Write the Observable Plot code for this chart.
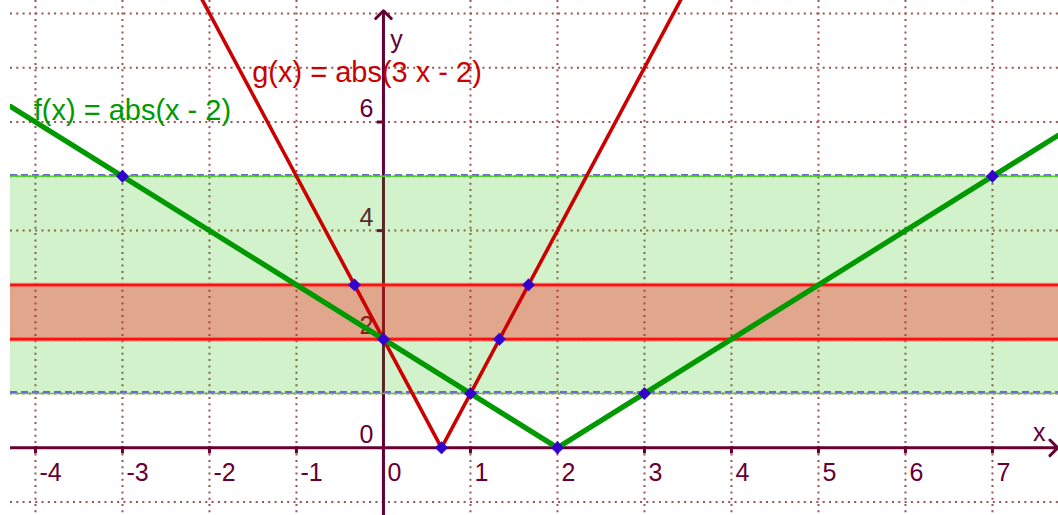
<!DOCTYPE html>
<html>
<head>
<meta charset="utf-8">
<script src="https://cdn.jsdelivr.net/npm/d3@7"></script>
<script src="https://cdn.jsdelivr.net/npm/@observablehq/plot@0.6"></script>
<style>
  html, body { margin: 0; padding: 0; background: #ffffff; }
  svg { display: block; }
</style>
</head>
<body>
<script>
// ---- data ----
const xDomain = [-4.287, 7.759];
const yDomain = [-1.247, 8.238];

const gridX = [-4, -3, -2, -1, 1, 2, 3, 4, 5, 6, 7];
const gridY = [-1, 1, 2, 3, 4, 5, 6, 7, 8];

const xTicks = [-4, -3, -2, -1, 1, 2, 3, 4, 5, 6, 7];
const xTickLabels = [-4, -3, -2, -1, 0, 1, 2, 3, 4, 5, 6, 7];
const yTicks = [2, 4, 6];
const yTickLabels = [0, 2, 4, 6];

// axis extents (start, arrow tip)
const xAxisExtent = [-4.287, 7.75];
const yAxisExtent = [-1.247, 8.05];

// bands: green 1..5, red 2..3
const greenBand = [1, 5];
const redBand = [2, 3];

// f(x) = |x - 2| polyline (vertices)
const fX = [-4.287, 2, 7.759];
const fY = [6.287, 0, 5.759];
// g(x) = |3x - 2| polyline
const gX = [-2.3, 0.667, 3.6];
const gY = [8.9, 0, 8.8];

// marked points
const ptsX = [-3, 0, 1, 2, 3, 7, -0.333, 0.667, 1.333, 1.667];
const ptsY = [5, 2, 1, 0, 1, 5, 3, 0, 2, 3];

// function labels
const labelText = ["g(x) = abs(3 x - 2)", "f(x) = abs(x - 2)"];
const labelX = [-1.509, -4.02];
const labelY = [6.90, 6.21];
const labelColor = ["#cc0000", "#009900"];

// ---- build ----
const zip = (xs, ys) => xs.map((x, i) => ({x, y: ys[i]}));
const fLine = zip(fX, fY);
const gLine = zip(gX, gY);
const pts = zip(ptsX, ptsY);
const labels = labelText.map((t, i) => ({t, x: labelX[i], y: labelY[i], c: labelColor[i]}));

const axisCol = "#660033";
const gridCol = "#9a5252";
const font = "Liberation Sans, Arial, sans-serif";

const chart = Plot.plot({
  width: 1058,
  height: 515,
  marginLeft: 10,
  marginRight: 0,
  marginTop: 0,
  marginBottom: 0,
  style: {background: "#ffffff", fontFamily: font},
  x: {domain: xDomain, axis: null},
  y: {domain: yDomain, axis: null},
  marks: [
    // dotted grid
    Plot.ruleX(gridX, {x: d => d, stroke: gridCol, strokeWidth: 2, strokeDasharray: "2,4.3"}),
    Plot.ruleY(gridY, {y: d => d, stroke: gridCol, strokeWidth: 2, strokeDasharray: "2,4.3"}),
    // axes
    Plot.arrow([0], {x1: () => xAxisExtent[0], x2: () => xAxisExtent[1], y1: () => 0, y2: () => 0,
      stroke: axisCol, strokeWidth: 3, headAngle: 90, headLength: 5.5, clip: true}),
    Plot.arrow([0], {x1: () => 0, x2: () => 0, y1: () => yAxisExtent[0], y2: () => yAxisExtent[1],
      stroke: axisCol, strokeWidth: 3, headAngle: 90, headLength: 5.5}),
    // ticks
    Plot.ruleX(xTicks, {x: d => d, y1: () => 0, y2: () => 0, insetTop: -1, insetBottom: -6,
      stroke: axisCol, strokeWidth: 3}),
    Plot.ruleY(yTicks, {y: d => d, x1: () => 0, x2: () => 0, insetLeft: -6, insetRight: -1,
      stroke: axisCol, strokeWidth: 3}),
    // tick labels
    Plot.text(xTickLabels, {x: d => d, y: () => 0, text: d => String(d), textAnchor: "start",
      dx: 4, dy: 25, fontSize: 25, fill: axisCol, fontFamily: font}),
    Plot.text(yTickLabels, {x: () => 0, y: d => d, text: d => String(d), textAnchor: "end",
      dx: -10, dy: -13, fontSize: 25, fill: axisCol, fontFamily: font}),
    // axis names
    Plot.text(["y"], {x: () => 0, frameAnchor: "top", dx: 13, dy: 30, text: d => d,
      fontSize: 25, fill: axisCol, fontFamily: font}),
    Plot.text(["x"], {y: () => 0, frameAnchor: "right", dx: -13, dy: -15, text: d => d,
      fontSize: 25, fill: axisCol, fontFamily: font}),
    // bands
    Plot.rect([greenBand], {y1: d => d[0], y2: d => d[1], fill: "#20c000", fillOpacity: 0.2}),
    Plot.rect([redBand], {y1: d => d[0], y2: d => d[1], fill: "#ff0000", fillOpacity: 0.31}),
    // band borders
    Plot.ruleY(greenBand, {y: d => d, stroke: "#55d02a", strokeWidth: 1.6}),
    Plot.ruleY(greenBand, {y: d => d, dy: -1.5, stroke: "#6a6ad0", strokeWidth: 1.8, strokeDasharray: "7,4"}),
    Plot.ruleY(redBand, {y: d => d, stroke: "#ff3030", strokeWidth: 4.5, strokeOpacity: 0.5}),
    Plot.ruleY(redBand, {y: d => d, stroke: "#ff1010", strokeWidth: 2.4}),
    // functions
    Plot.line(gLine, {x: "x", y: "y", stroke: "#cc0000", strokeWidth: 3.6, clip: true}),
    Plot.line(fLine, {x: "x", y: "y", stroke: "#009900", strokeWidth: 5.2, clip: true}),
    // points
    Plot.dot(pts, {x: "x", y: "y", symbol: "diamond2", r: 5.6, fill: "#3300cc", stroke: "#3300cc", strokeWidth: 0.5}),
    // function labels
    Plot.text(labels, {x: "x", y: "y", text: "t", fill: "c", textAnchor: "start",
      fontSize: 29, fontFamily: font})
  ]
});
document.body.appendChild(chart);
</script>
</body>
</html>
